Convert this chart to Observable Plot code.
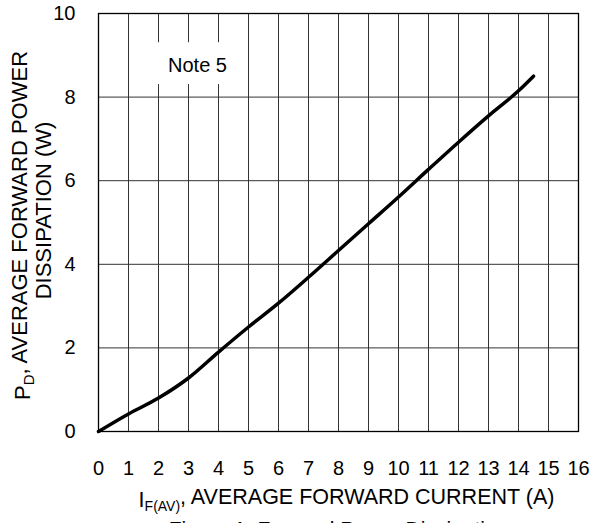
<!DOCTYPE html>
<html>
<head>
<meta charset="utf-8">
<script src="https://cdn.jsdelivr.net/npm/d3@7"></script>
<script src="https://cdn.jsdelivr.net/npm/@observablehq/plot@0.6"></script>
<style>
  body { margin: 0; background: white; }
  svg { font-family: "Liberation Sans", Arial, sans-serif; }
</style>
</head>
<body>
<div id="chart"></div>
<script>
// Data
const current = [0, 1, 2, 3, 4, 5, 6, 7, 8, 9, 10, 11, 12, 13, 14, 14.5];
const power   = [0, 0.42, 0.8, 1.28, 1.9, 2.5, 3.07, 3.69, 4.33, 4.97, 5.61, 6.27, 6.92, 7.55, 8.15, 8.5];
const xTicks = [0, 1, 2, 3, 4, 5, 6, 7, 8, 9, 10, 11, 12, 13, 14, 15, 16];
const yTicks = [0, 2, 4, 6, 8, 10];
const xGrid = [1, 2, 3, 4, 5, 6, 7, 8, 9, 10, 11, 12, 13, 14, 15];
const yGrid = [2, 4, 6, 8];
const noteLabel = ["Note 5"];
const captionText = ["Figure 1. Forward Power Dissipation"];

const curveData = current.map((c, i) => ({ c, p: power[i] }));

const svg = Plot.plot({
  width: 592,
  height: 523,
  marginLeft: 98,
  marginRight: 14,
  marginTop: 13,
  marginBottom: 92,
  style: { fontFamily: '"Liberation Sans", Arial, sans-serif', fontSize: "20px", background: "white", overflow: "visible" },
  x: { domain: [0, 16], ticks: xTicks, label: null },
  y: { domain: [0, 10], ticks: yTicks, label: null },
  marks: [
    Plot.ruleX(xGrid, { stroke: "#333", strokeWidth: 1 }),
    Plot.ruleY(yGrid, { stroke: "#333", strokeWidth: 1 }),
    Plot.rect([0], { x1: 1.3, x2: 4.7, y1: 8.3, y2: 9.3, fill: "white" }),
    Plot.text(noteLabel, { x: 3.3, y: 8.76, text: d => d, fontSize: 20, fill: "black" }),
    Plot.frame({ stroke: "black", strokeWidth: 1.3 }),
    Plot.line(curveData, { x: "c", y: "p", stroke: "black", strokeWidth: 3.5, curve: "monotone-x", strokeLinecap: "round" }),
    Plot.axisX(xTicks, { tickSize: 0, tickPadding: 29, fontSize: 20, fill: "black", label: null }),
    Plot.axisY(yTicks, { tickSize: 0, tickPadding: 23, fontSize: 20, fill: "black", label: null }),
    Plot.text(["X"], { frameAnchor: "bottom", textAnchor: "middle", dy: 75, dx: 8, text: d => d, fontSize: 21.5, fill: "black", className: "xlab" }),
    Plot.text(["Y1"], { frameAnchor: "left", textAnchor: "middle", dx: -76, dy: 3, rotate: -90, text: d => d, fontSize: 22, fill: "black", className: "ylab1" }),
    Plot.text(["Y2"], { frameAnchor: "left", textAnchor: "middle", dx: -55, dy: -12, rotate: -90, text: d => "DISSIPATION (W)", fontSize: 22, fill: "black" }),
    Plot.text(captionText, { frameAnchor: "bottom", textAnchor: "middle", dy: 104, text: d => d, fontSize: 21, fill: "black" })
  ]
});

// Labels with subscripts
function subLabel(sel, main, sub, rest, subSize) {
  sel.each(function () {
    const t = d3.select(this);
    t.text(null);
    t.append("tspan").text(main);
    t.append("tspan").attr("font-size", subSize).attr("dy", "0.3em").text(sub);
    t.append("tspan").attr("dy", "-0.3em").text(rest);
  });
}
subLabel(d3.select(svg).selectAll(".xlab text"), "I", "F(AV)", ", AVERAGE FORWARD CURRENT (A)", 14);
subLabel(d3.select(svg).selectAll(".ylab1 text"), "P", "D", ", AVERAGE FORWARD POWER", 15);

document.getElementById("chart").appendChild(svg);
</script>
</body>
</html>
